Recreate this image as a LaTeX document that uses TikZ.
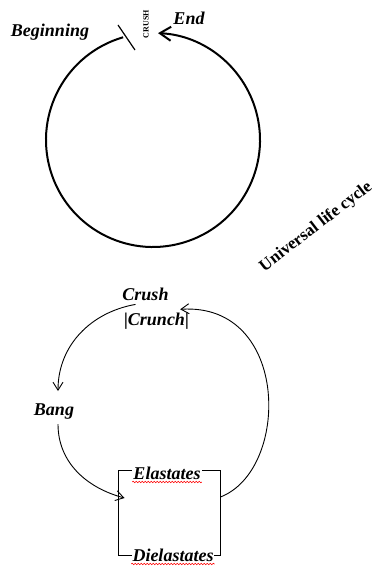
\documentclass[tikz,border=0pt]{standalone}
\usepackage{fontspec}
\setmainfont{Liberation Serif}
\usetikzlibrary{arrows.meta,decorations.pathmorphing}
\begin{document}
\begin{tikzpicture}[
  x=1pt, y=1pt,
  lbl/.style={font=\fontsize{18}{20}\selectfont\bfseries\itshape, inner sep=1pt, anchor=base},
  ring/.style={line width=2pt, -{Straight Barb[length=11pt,width=14pt]}},
  loop arc/.style={line width=0.9pt, -{Straight Barb[length=8pt,width=10pt]}},
  squiggle/.style={red, line width=0.6pt, decorate, decoration={snake, amplitude=0.8pt, segment length=3pt}}
]
\useasboundingbox (0,0) rectangle (379,-567);

% top cycle
\coordinate (O) at (153,-140);
\coordinate (tickA) at (118,-25);
\coordinate (tickB) at (135,-50);
\node[lbl] (begin) at (50,-37) {Beginning};
\node[lbl] (end) at (189,-25) {End};
\node[font=\fontsize{8}{9}\selectfont\bfseries, rotate=90, inner sep=0pt] (crushtop) at (146,-24) {CRUSH};
\draw[ring] (O) ++(106.2:107) arc[start angle=106.2, end angle=447.3, radius=107];
\draw[line width=1.2pt] (tickA) -- (tickB);

\node[font=\fontsize{17}{19}\selectfont\bfseries, rotate=37.6] (title) at (316,-227) {Universal life cycle};

% bottom cycle
\node[lbl] (crush) at (145.5,-300) {Crush};
\node[lbl] (crunch) at (156.5,-325) {|Crunch|};
\node[lbl] (bang) at (54,-415) {Bang};
\node[draw, line width=0.9pt, minimum width=102pt, minimum height=85pt, inner sep=0pt] (box) at (169,-512.5) {};
\node[lbl, fill=white] (elast) at (167,-479) {Elastates};
\node[lbl, fill=white] (dielast) at (173,-561) {Dielastates};
\draw[squiggle] ([yshift=-3pt]elast.base west) -- ([yshift=-3pt]elast.base east);
\draw[squiggle] ([yshift=-3pt]dielast.base west) -- ([yshift=-3pt]dielast.base east);

\draw[loop arc] ([xshift=-10pt,yshift=-3pt]crush.south) to[out=190, in=90] ([xshift=4pt,yshift=11pt]bang.north);
\draw[loop arc] ([xshift=4pt,yshift=-4pt]bang.south) to[out=270, in=165] ([xshift=7pt,yshift=14.5pt]box.west);
\draw[loop arc] ([yshift=15.5pt]box.east) .. controls +(70,27) and +(110,7) .. ([xshift=-10pt,yshift=2pt]crunch.north east);
\end{tikzpicture}
\end{document}
